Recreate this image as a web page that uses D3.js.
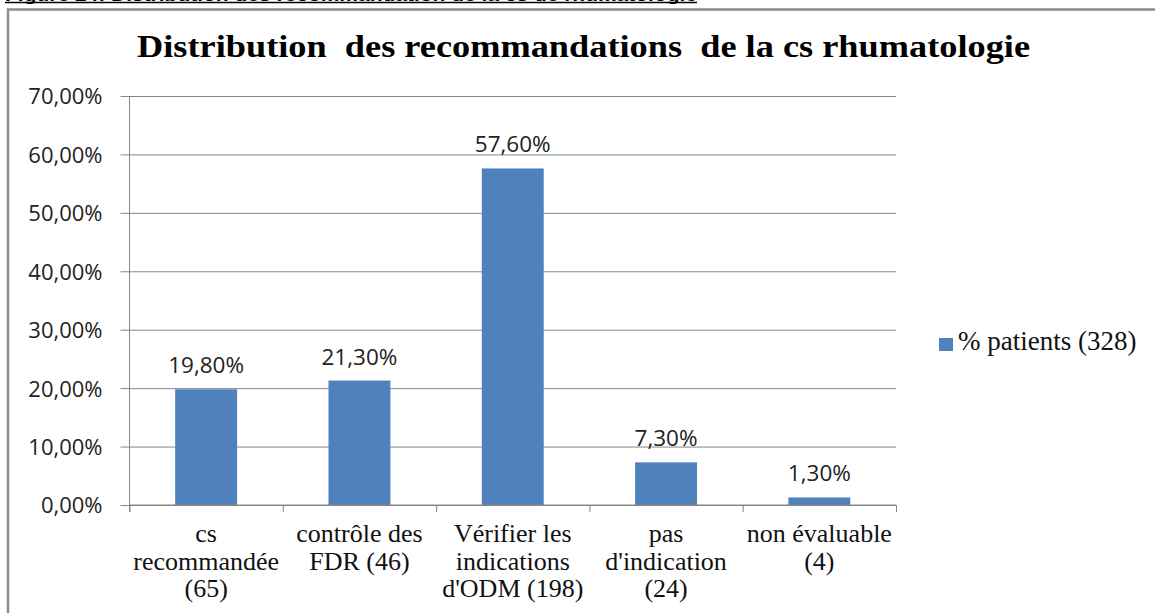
<!DOCTYPE html>
<html>
<head>
<meta charset="utf-8">
<script src="https://cdn.jsdelivr.net/npm/d3@7"></script>
<style>
  html, body { margin: 0; padding: 0; background: #fff; }
  svg { display: block; }
</style>
</head>
<body>
<svg id="chart"></svg>
<script>
// chart data
var categories = [
    ["cs", "recommandée", "(65)"],
    ["contrôle des", "FDR (46)"],
    ["Vérifier les", "indications", "d'ODM (198)"],
    ["pas", "d'indication", "(24)"],
    ["non évaluable", "(4)"]
];
var values = [19.8, 21.3, 57.6, 7.3, 1.3];
var yTicks = [0, 10, 20, 30, 40, 50, 60, 70];
var seriesName = "% patients (328)";
var chartTitle = "Distribution  des recommandations  de la cs rhumatologie";
var figCaption = "Figure 24: Distribution des recommandation de la cs de rhumatologie";

var W = 1155, H = 613;
var svg = d3.select('#chart').attr('width', W).attr('height', H);

var sans = "'Open Sans', 'Noto Sans', sans-serif";
var serif = "'Liberation Serif', 'Times New Roman', serif";
var barColor = "#4f81bd";
var gridColor = "#868686";

// caption from the document, cut off at the top of the picture (as in the source)
svg.append('text')
    .attr('x', 5).attr('y', 1)
    .attr('textLength', 692).attr('lengthAdjust', 'spacingAndGlyphs')
    .style('font-family', "'Liberation Sans', Arial, sans-serif")
    .style('font-weight', 'bold')
    .style('font-size', '17px')
    .text(figCaption);
svg.append('line')
    .attr('x1', 5).attr('x2', 697).attr('y1', 2.5).attr('y2', 2.5)
    .attr('stroke', '#000').attr('stroke-width', 1.5);

// outer chart frame
svg.append('path')
    .attr('d', 'M8,' + H + ' V9.5 H' + W)
    .attr('fill', 'none')
    .attr('stroke', '#8c8c8c')
    .attr('stroke-width', 2.5);

// title
svg.append('text')
    .attr('x', 137).attr('y', 57)
    .attr('textLength', 893).attr('lengthAdjust', 'spacingAndGlyphs')
    .style('font-family', serif)
    .style('font-weight', 'bold')
    .style('font-size', '32px')
    .attr('xml:space', 'preserve')
    .text(chartTitle);

var plot = { left: 129.5, right: 896, top: 96, bottom: 505 };

var x = d3.scaleBand()
    .domain(d3.range(values.length))
    .range([plot.left, plot.right])
    .paddingInner(0.596)
    .paddingOuter(0.298);

var y = d3.scaleLinear()
    .domain([0, 70])
    .range([plot.bottom, plot.top]);

var fmt = function(v) { return d3.format('.2f')(v).replace('.', ',') + '%'; };

// gridlines + y axis
var yAxis = d3.axisLeft(y)
    .tickValues(yTicks)
    .tickSize(-(plot.right - plot.left))
    .tickPadding(27)
    .tickFormat(fmt);

var gy = svg.append('g')
    .attr('transform', 'translate(' + plot.left + ',0)')
    .call(yAxis);
gy.select('.domain').remove();
gy.selectAll('.tick line')
    .attr('x1', -9)
    .attr('stroke', gridColor)
    .attr('stroke-width', 1);
gy.selectAll('.tick text')
    .style('font-family', sans)
    .style('font-size', '22px')
    .attr('fill', '#222')
    .attr('dy', '0.36em');

// vertical axis line
svg.append('line')
    .attr('x1', plot.left).attr('x2', plot.left)
    .attr('y1', plot.top).attr('y2', plot.bottom + 7)
    .attr('stroke', gridColor);

// bars
svg.append('g').selectAll('rect')
    .data(values)
    .enter().append('rect')
    .attr('x', function(d, i) { return x(i); })
    .attr('y', function(d) { return y(d); })
    .attr('width', x.bandwidth())
    .attr('height', function(d) { return plot.bottom - y(d); })
    .attr('fill', barColor);

// bar value labels
svg.append('g').selectAll('text')
    .data(values)
    .enter().append('text')
    .attr('x', function(d, i) { return x(i) + x.bandwidth() / 2; })
    .attr('y', function(d) { return y(d) - 16; })
    .attr('text-anchor', 'middle')
    .style('font-family', sans)
    .style('font-size', '22.5px')
    .attr('fill', '#222')
    .text(fmt);

// x axis with category boundary ticks
var step = x.step();
var xAxis = d3.axisBottom(d3.scaleLinear().domain([0, values.length]).range([plot.left, plot.left + values.length * step]))
    .tickValues(d3.range(values.length + 1))
    .tickSize(7)
    .tickFormat('');
var gx = svg.append('g')
    .attr('transform', 'translate(0,' + plot.bottom + ')')
    .call(xAxis);
gx.selectAll('path, line').attr('stroke', gridColor);
gx.select('.domain').attr('d', 'M' + plot.left + ',0H' + (plot.left + values.length * step));

// category labels
var catG = svg.append('g').selectAll('text')
    .data(categories)
    .enter().append('text')
    .attr('text-anchor', 'middle')
    .style('font-family', serif)
    .style('font-size', '26px')
    .attr('fill', '#111');
catG.selectAll('tspan')
    .data(function(d, i) { return d.map(function(t) { return { t: t, i: i }; }); })
    .enter().append('tspan')
    .attr('x', function(d) { return x(d.i) + x.bandwidth() / 2; })
    .attr('y', function(d, j) { return 542 + j * 27.5; })
    .text(function(d) { return d.t; });

// legend
var leg = svg.append('g').attr('transform', 'translate(939,338)');
leg.append('rect')
    .attr('width', 14).attr('height', 13)
    .attr('fill', barColor);
leg.append('text')
    .attr('x', 19).attr('y', 12)
    .style('font-family', serif)
    .style('font-size', '27px')
    .attr('fill', '#111')
    .text(seriesName);
</script>
</body>
</html>
